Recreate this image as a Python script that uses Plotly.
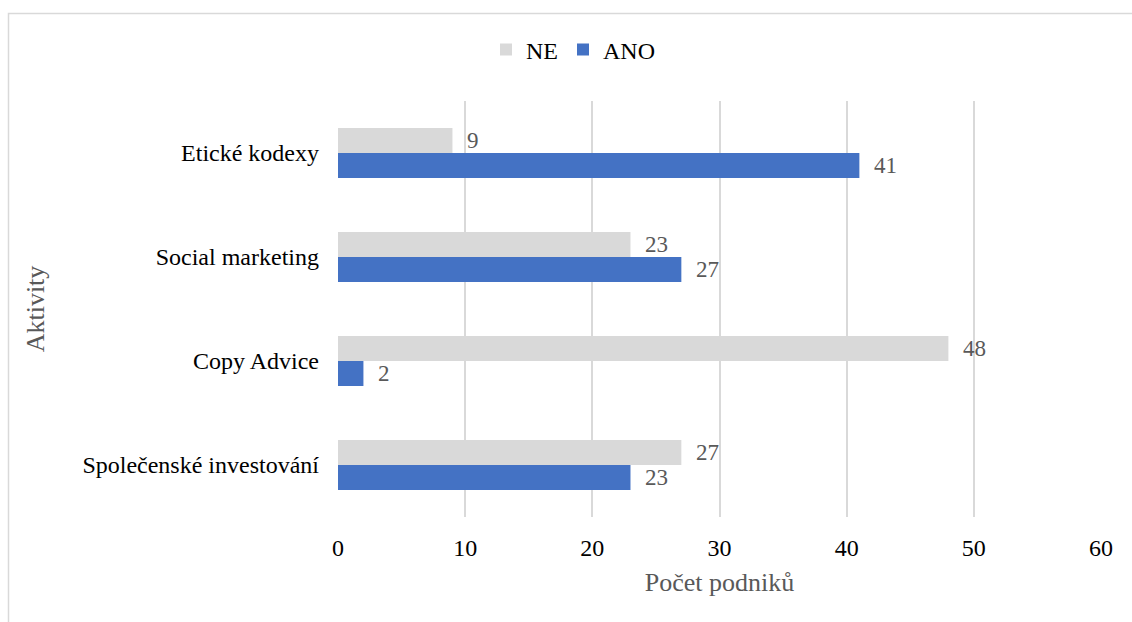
import plotly.graph_objects as go

categories = ["Společenské investování", "Copy Advice", "Social marketing", "Etické kodexy"]
ano_values = [23, 2, 27, 41]
ne_values = [27, 48, 23, 9]
x_ticks = [0, 10, 20, 30, 40, 50, 60]

FONT = "Liberation Serif"
W, H = 1132, 622
L, R, T, B = 338, 1101, 101, 517

fig = go.Figure()
fig.add_trace(go.Bar(
    y=categories, x=ano_values, name="ANO", orientation="h",
    marker=dict(color="#4472c4", line=dict(width=0)),
    text=ano_values, texttemplate="\u00a0\u00a0%{x}", textposition="outside",
    textfont=dict(family=FONT, size=24, color="#595959"), cliponaxis=False,
))
fig.add_trace(go.Bar(
    y=categories, x=ne_values, name="NE", orientation="h",
    marker=dict(color="#d9d9d9", line=dict(width=0)),
    text=ne_values, texttemplate="\u00a0\u00a0%{x}", textposition="outside",
    textfont=dict(family=FONT, size=24, color="#595959"), cliponaxis=False,
))

pw, ph = R - L, B - T
def px2x(px): return (px - L) / pw
def py2y(py): return (B - py) / ph

fig.update_layout(
    width=W, height=H,
    margin=dict(l=L, r=W - R, t=T, b=H - B, pad=0),
    paper_bgcolor="white", plot_bgcolor="white",
    barmode="group", bargap=1 - 50 / 104, bargroupgap=0,
    font=dict(family=FONT, size=24, color="#000000"),
    showlegend=True,
    legend=dict(orientation="h", traceorder="reversed", x=px2x(573), xanchor="center",
                y=py2y(50), yanchor="middle", font=dict(family=FONT, size=24, color="#000000"),
                itemwidth=30, bgcolor="rgba(0,0,0,0)"),
    xaxis=dict(range=[0, 60], tickvals=x_ticks, showgrid=True, gridcolor="#d9d9d9", gridwidth=2,
               zeroline=False, showline=False, ticks="", ticklabelstandoff=14,
               tickfont=dict(family=FONT, size=24, color="#000000"),
               title=dict(text="Počet podniků", font=dict(family=FONT, size=26, color="#595959"), standoff=12)),
    yaxis=dict(categoryorder="array", categoryarray=categories, showgrid=False, zeroline=False,
               showline=False, ticks="", ticklabelstandoff=18,
               tickfont=dict(family=FONT, size=24, color="#000000"),
               title=dict(text="Aktivity", font=dict(family=FONT, size=26, color="#595959"), standoff=30)),
    shapes=[dict(type="path", xref="paper", yref="paper",
                 path=f"M {px2x(8.5)} {py2y(640)} L {px2x(8.5)} {py2y(13.5)} L {px2x(1150)} {py2y(13.5)}",
                 line=dict(color="#d9d9d9", width=1.5), layer="below")],
)

fig.write_html("out.html")
